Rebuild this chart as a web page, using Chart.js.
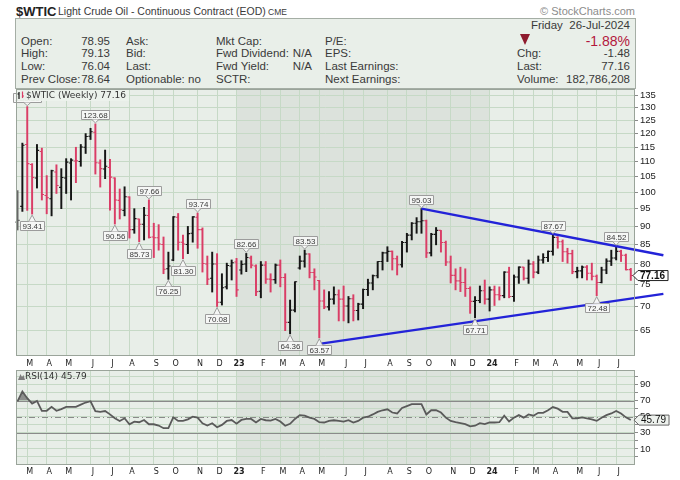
<!DOCTYPE html>
<html>
<head>
<meta charset="utf-8">
<title>$WTIC weekly</title>
<script src="https://cdn.jsdelivr.net/npm/chart.js@4.4.1/dist/chart.umd.min.js"></script>
<style>
  html, body { margin: 0; padding: 0; background: #fff; }
  #page { position: relative; width: 680px; height: 480px; overflow: hidden;
          font-family: 'Liberation Sans', Arial, sans-serif; color: #3a3a3a; }
  .t { position: absolute; white-space: pre; font-size: 11.5px; line-height: 13px; }
  .v { position: absolute; white-space: pre; font-size: 11.5px; line-height: 13px; text-align: right; }
  #box { position: absolute; left: 15px; top: 18px; width: 621px; height: 71px;
         box-sizing: border-box; background: #e9efe9; border: 1px solid #a5aea5; }
  #tri { position: absolute; left: 520px; top: 34px; width: 0; height: 0;
         border-left: 5.5px solid transparent; border-right: 5.5px solid transparent;
         border-top: 11px solid #8e1b2e; }
  canvas { position: absolute; left: 0; }
</style>
</head>
<body>
<div id="page">
  <div class="t" style="left:16px;top:4px;font-size:13px;line-height:15px;font-weight:bold;color:#222">$WTIC</div>
  <div class="t" style="left:58px;top:5px;font-size:10.5px;line-height:12px;">Light Crude Oil - Continuous Contract (EOD)</div>
  <div class="t" style="left:268px;top:7px;font-size:8.5px;line-height:10px;">CME</div>
  <div class="v" style="right:45px;top:5px;font-size:11px;color:#8c8c8c;">&copy; StockCharts.com</div>
  <div id="box"></div>

  <div class="t" style="left:21px;top:34.5px">Open:</div>
  <div class="t" style="left:21px;top:47px">High:</div>
  <div class="t" style="left:21px;top:59.5px">Low:</div>
  <div class="t" style="left:21px;top:72.5px">Prev Close:</div>
  <div class="v" style="right:570px;top:34.5px">78.95</div>
  <div class="v" style="right:570px;top:47px">79.13</div>
  <div class="v" style="right:570px;top:59.5px">76.04</div>
  <div class="v" style="right:570px;top:72.5px">78.64</div>

  <div class="t" style="left:126px;top:34.5px">Ask:</div>
  <div class="t" style="left:126px;top:47px">Bid:</div>
  <div class="t" style="left:126px;top:59.5px">Last:</div>
  <div class="t" style="left:126px;top:72.5px">Optionable: no</div>

  <div class="t" style="left:216px;top:34.5px">Mkt Cap:</div>
  <div class="t" style="left:216px;top:47px">Fwd Dividend:</div>
  <div class="t" style="left:216px;top:59.5px">Fwd Yield:</div>
  <div class="t" style="left:216px;top:72.5px">SCTR:</div>
  <div class="v" style="right:368px;top:47px">N/A</div>
  <div class="v" style="right:368px;top:59.5px">N/A</div>

  <div class="t" style="left:325px;top:34.5px">P/E:</div>
  <div class="t" style="left:325px;top:47px">EPS:</div>
  <div class="t" style="left:325px;top:59.5px">Last Earnings:</div>
  <div class="t" style="left:325px;top:72.5px">Next Earnings:</div>

  <div class="v" style="right:50px;top:18.8px">Friday  26-Jul-2024</div>
  <div id="tri"></div>
  <div class="v" style="right:50px;top:33px;font-size:14px;line-height:16px;color:#b3173d">-1.88%</div>
  <div class="t" style="left:517px;top:47px">Chg:</div>
  <div class="t" style="left:517px;top:59.5px">Last:</div>
  <div class="t" style="left:517px;top:72.5px">Volume:</div>
  <div class="v" style="right:50px;top:47px">-1.48</div>
  <div class="v" style="right:50px;top:59.5px">77.16</div>
  <div class="v" style="right:50px;top:72.5px">182,786,208</div>

  <canvas id="priceChart" width="680" height="293" style="top:77px"></canvas>
  <canvas id="rsiChart" width="680" height="122" style="top:358px"></canvas>
</div>

<script>
// weekly bars, bar 0 = week of 21-Feb-2022, last bar = week ending 26-Jul-2024
const opens = [
  91.1, 95.7, 116.0, 109.0, 104.5, 113.5, 99.0, 98.0, 106.5, 101.5,
  104.5, 109.5, 110.2, 110.0, 115.0, 119.0, 120.5, 109.5, 107.5, 108.0,
  104.5, 97.5, 94.5, 98.5, 89.0, 92.0, 90.5, 93.0, 87.0, 86.8,
  85.0, 78.8, 81.0, 92.5, 85.6, 85.0, 88.0, 92.5, 89.0, 80.0,
  76.5, 80.0, 71.0, 74.5, 79.5, 80.5, 78.5, 80.0, 81.5, 79.5,
  73.5, 79.7, 76.3, 76.2, 79.7, 76.7, 66.7, 69.3, 79.0, 80.7,
  82.5, 77.9, 76.0, 71.3, 70.0, 71.7, 72.7, 71.7, 70.2, 71.8,
  69.2, 70.6, 73.9, 75.4, 77.1, 80.6, 82.8, 83.2, 81.3, 79.8,
  85.5, 87.5, 90.8, 91.2, 91.5, 82.8, 87.7, 88.8, 85.5, 80.5,
  77.2, 75.9, 75.5, 74.1, 71.2, 71.4, 73.6, 71.7, 73.8, 72.7,
  72.5, 78.0, 72.3, 76.8, 79.2, 76.5, 80.0, 78.0, 81.0, 81.6,
  83.2, 86.9, 85.7, 83.1, 82.6, 78.1, 78.3, 79.2, 77.7, 77.0,
  75.5, 78.5, 80.7, 81.5, 83.2, 82.2, 78.6
];
const highs = [
  100.5, 116.5, 130.5, 109.3, 116.0, 114.7, 105.3, 107.1, 108.9, 107.6,
  111.0, 111.0, 115.0, 116.0, 120.0, 122.0, 123.68, 110.6, 114.0, 110.8,
  104.6, 101.0, 101.7, 98.6, 95.0, 92.0, 95.4, 97.66, 90.8, 90.4,
  87.0, 83.0, 92.7, 93.6, 87.5, 89.9, 92.7, 93.74, 89.5, 82.0,
  83.0, 82.6, 77.6, 80.2, 81.0, 81.4, 80.8, 82.66, 82.0, 79.8,
  80.6, 80.6, 77.6, 80.0, 81.0, 77.6, 71.5, 75.7, 82.0, 83.53,
  82.6, 78.8, 76.0, 73.8, 73.4, 74.5, 73.8, 74.7, 72.3, 72.7,
  70.8, 74.0, 76.3, 77.3, 80.6, 83.0, 84.4, 83.3, 82.0, 85.8,
  88.0, 91.0, 92.4, 95.03, 91.7, 88.0, 89.6, 88.8, 85.9, 82.0,
  78.8, 79.2, 78.8, 74.5, 72.3, 74.7, 76.1, 74.5, 74.7, 74.5,
  78.1, 79.2, 77.3, 79.3, 79.2, 81.0, 80.6, 82.0, 82.6, 83.3,
  87.67, 87.1, 86.2, 84.0, 83.5, 79.2, 79.5, 79.6, 80.2, 77.3,
  79.2, 81.3, 83.5, 84.52, 83.5, 82.5, 78.9
];
const lows = [
  88.9, 94.2, 94.5, 93.41, 101.3, 97.6, 93.5, 92.9, 99.6, 95.0,
  99.6, 97.6, 103.0, 108.4, 112.8, 117.8, 105.8, 101.6, 104.3, 94.6,
  90.56, 92.0, 92.9, 86.7, 88.0, 85.73, 86.2, 86.7, 81.6, 83.5,
  77.6, 76.25, 80.8, 83.5, 81.3, 82.6, 85.6, 84.0, 78.0, 75.0,
  73.3, 70.08, 70.4, 74.0, 76.1, 72.3, 77.5, 78.1, 79.0, 72.5,
  72.0, 75.3, 73.3, 75.3, 74.5, 65.0, 64.36, 68.9, 78.7, 79.2,
  76.6, 73.8, 63.57, 69.6, 69.3, 70.6, 67.0, 67.0, 66.6, 67.0,
  67.2, 69.6, 72.5, 73.8, 76.6, 78.5, 80.6, 78.5, 77.3, 79.2,
  83.0, 86.2, 88.0, 88.0, 81.6, 82.0, 84.9, 83.0, 79.6, 75.4,
  73.8, 73.4, 72.3, 68.6, 67.71, 70.9, 70.6, 69.1, 70.3, 71.5,
  72.0, 72.0, 71.2, 75.3, 76.1, 75.3, 76.6, 77.6, 80.2, 80.6,
  82.2, 84.0, 80.6, 80.2, 77.6, 76.6, 76.6, 76.1, 76.1, 72.48,
  75.4, 77.6, 79.6, 81.0, 80.6, 78.5, 76.0
];
const closes = [
  91.6, 115.7, 109.3, 104.7, 113.9, 99.3, 98.3, 106.9, 102.1, 104.7,
  109.8, 110.5, 110.3, 115.1, 118.9, 120.7, 109.6, 107.6, 108.4, 104.8,
  97.6, 94.7, 98.6, 89.0, 92.1, 90.5, 93.1, 86.9, 86.8, 85.1,
  78.7, 79.5, 92.6, 85.6, 85.1, 87.9, 92.6, 89.0, 80.1, 76.3,
  80.0, 71.0, 74.3, 79.6, 80.3, 73.8, 79.9, 81.6, 79.7, 73.4,
  79.7, 76.3, 76.2, 79.7, 76.7, 66.7, 69.3, 75.7, 80.7, 82.5,
  77.9, 76.8, 71.3, 70.0, 71.7, 72.7, 71.7, 70.2, 71.8, 69.2,
  70.6, 73.9, 75.4, 77.1, 80.6, 82.8, 83.2, 81.3, 79.8, 85.5,
  87.5, 90.8, 91.2, 91.5, 82.8, 87.7, 88.8, 85.5, 80.5, 77.2,
  75.9, 75.5, 74.1, 71.2, 71.4, 73.6, 71.7, 73.8, 72.7, 72.5,
  78.0, 72.3, 76.8, 79.2, 76.5, 80.0, 78.0, 81.0, 81.6, 83.2,
  86.9, 85.7, 83.1, 82.6, 78.1, 78.3, 79.2, 77.7, 77.0, 75.5,
  78.5, 80.7, 81.5, 83.2, 82.2, 78.6, 77.16
];
const rsi = [
  69.0, 81.4, 73.0, 66.3, 69.6, 57.3, 57.3, 62.2, 57.3, 59.4,
  62.2, 62.2, 62.2, 65.0, 67.6, 69.2, 57.0, 56.1, 57.0, 52.9,
  48.0, 44.7, 48.0, 40.6, 43.9, 43.1, 45.9, 40.6, 40.6, 39.0,
  35.7, 35.7, 49.2, 44.7, 44.7, 46.7, 50.0, 48.8, 41.8, 39.0,
  41.8, 36.9, 39.8, 44.7, 45.9, 41.4, 46.0, 47.2, 47.2, 42.8,
  47.2, 45.6, 45.2, 47.2, 44.0, 38.8, 41.2, 47.2, 52.0, 51.2,
  48.8, 47.2, 43.2, 42.8, 44.8, 45.6, 44.8, 44.0, 45.6, 42.8,
  44.8, 48.8, 50.0, 52.8, 56.0, 58.0, 59.2, 55.2, 54.0, 60.8,
  63.2, 65.6, 65.6, 65.6, 52.8, 58.0, 58.0, 55.2, 48.8, 44.8,
  43.2, 42.0, 40.8, 38.0, 38.8, 42.0, 40.8, 42.8, 42.8, 43.2,
  51.2, 44.0, 48.8, 52.0, 48.8, 52.8, 51.2, 54.8, 54.8, 58.0,
  62.0, 60.0, 56.0, 56.0, 48.0, 48.0, 49.2, 48.0, 46.8, 44.8,
  48.8, 52.0, 54.0, 57.2, 54.0, 49.2, 45.79
];

// first week of each month (bar index) and its label
const monthTickIdx = [2, 6, 10, 15, 19, 23, 28, 32, 37, 41, 45, 50, 54, 58, 62,
                      67, 71, 76, 80, 84, 89, 93, 97, 102, 106, 110, 115, 119, 123];
const monthTickLabels = ['M', 'A', 'M', 'J', 'J', 'A', 'S', 'O', 'N', 'D', '23', 'F', 'M', 'A', 'M',
                         'J', 'J', 'A', 'S', 'O', 'N', 'D', '24', 'F', 'M', 'A', 'M', 'J', 'J'];
const yearBand = [45, 97];   // 2023 shaded between these bars

const priceTicks = [65, 70, 75, 80, 85, 90, 95, 100, 105, 110, 115, 120, 125, 130, 135];
const rsiTicks = [0, 10, 20, 30, 40, 50, 60, 70, 80, 90, 100];
const rsiLabels = [10, 30, 50, 70, 90];

const peakIdx = [2, 16, 27, 37, 47, 59, 83, 110, 123];
const troughIdx = [3, 20, 25, 31, 34, 41, 56, 62, 94, 119];

const upperTrend = [{x: 83, y: 95.03}, {x: 132.7, y: 82.2}];
const lowerTrend = [{x: 62, y: 62.4}, {x: 132.7, y: 72.9}];

Chart.defaults.font.family = "'Liberation Sans', Arial, sans-serif";
Chart.defaults.color = '#222';

const red = '#da3d66';
const black = '#151515';
const gridColor = '#c6d9c6';
const panelBg = '#e8eee8';
const bandBg = '#dce2dc';
const barColors = closes.map((c, i) => i === 0 ? '#666' : (c < closes[i - 1] ? red : black));

function xAxis(axisHeight, pad) {
    return {
        type: 'linear', min: -0.31, max: 126.87, bounds: 'data', offset: false,
        afterBuildTicks: s => { s.ticks = monthTickIdx.map(v => ({value: v})); },
        afterFit: s => { s.height = axisHeight; },
        grid: { color: gridColor, drawTicks: false, offset: false },
        border: { display: false },
        ticks: {
            autoSkip: false, maxRotation: 0, minRotation: 0, padding: pad, labelOffset: 2.5,
            color: '#222',
            font: ctx => ({ family: 'DejaVu Sans', size: 8,
                            weight: /\d/.test(monthTickLabels[ctx.index] || '') ? 'bold' : 'normal' }),
            callback: (v, i) => monthTickLabels[i]
        }
    };
}

function drawPanelBack(chart) {
    const {ctx, chartArea: a, scales: {x}} = chart;
    ctx.save();
    ctx.fillStyle = panelBg;
    ctx.fillRect(a.left, a.top, a.right - a.left, a.bottom - a.top);
    const x0 = x.getPixelForValue(yearBand[0]);
    const x1 = x.getPixelForValue(yearBand[1]);
    ctx.fillStyle = bandBg;
    ctx.fillRect(x0, a.top, x1 - x0, a.bottom - a.top);
    ctx.restore();
}

function drawFrame(chart) {
    const {ctx, chartArea: a} = chart;
    ctx.save();
    ctx.strokeStyle = '#9aa49a';
    ctx.lineWidth = 1;
    ctx.strokeRect(Math.round(a.left) + 0.5, Math.round(a.top) + 0.5,
                   Math.round(a.right - a.left) - 1, Math.round(a.bottom - a.top) - 1);
    ctx.restore();
}

function drawValueTag(ctx, text, x0, yc, bold, fill, stroke) {
    ctx.save();
    ctx.font = (bold ? 'bold ' : '') + "10px 'Liberation Sans'";
    const w = ctx.measureText(text).width + 10;
    ctx.beginPath();
    ctx.moveTo(x0, yc);
    ctx.lineTo(x0 + 5, yc - 5);
    ctx.lineTo(x0 + w, yc - 5);
    ctx.lineTo(x0 + w, yc + 5);
    ctx.lineTo(x0 + 5, yc + 5);
    ctx.closePath();
    ctx.fillStyle = fill;
    ctx.fill();
    ctx.strokeStyle = stroke;
    ctx.lineWidth = 1;
    ctx.stroke();
    ctx.fillStyle = '#111';
    ctx.textAlign = 'left';
    ctx.textBaseline = 'middle';
    ctx.fillText(text, x0 + 7, yc + 0.5);
    ctx.restore();
}

function drawPointLabel(ctx, text, cx, yTip, above) {
    ctx.font = "8px 'Liberation Sans'";
    const w = Math.round(ctx.measureText(text).width + 4);
    const h = 9;
    const top = Math.round(above ? yTip - 5 - h : yTip + 7);
    const left = Math.round(cx - w / 2);
    ctx.fillStyle = 'rgba(246,247,246,0.92)';
    ctx.strokeStyle = '#9c9c9c';
    ctx.lineWidth = 1;
    ctx.beginPath();
    ctx.rect(left + 0.5, top + 0.5, w, h);
    ctx.fill();
    ctx.stroke();
    ctx.beginPath();
    if (above) {
        ctx.moveTo(cx - 3.5, top + h + 0.5);
        ctx.lineTo(cx, yTip - 1);
        ctx.lineTo(cx + 3.5, top + h + 0.5);
    } else {
        ctx.moveTo(cx - 3.5, top + 0.5);
        ctx.lineTo(cx, yTip + 1);
        ctx.lineTo(cx + 3.5, top + 0.5);
    }
    ctx.fill();
    ctx.stroke();
    ctx.fillStyle = '#3a3a3a';
    ctx.textAlign = 'center';
    ctx.textBaseline = 'middle';
    ctx.fillText(text, left + w / 2 + 0.5, top + h / 2 + 1);
}

const pricePanel = {
    id: 'pricePanel',
    beforeDraw(chart) { drawPanelBack(chart); },
    afterDatasetDraw(chart, args) {
        if (args.index !== 0) return;
        const {ctx, scales: {x, y}} = chart;
        ctx.save();
        ctx.lineWidth = 1.1;
        closes.forEach((c, i) => {
            const px = x.getPixelForValue(i);
            const yo = y.getPixelForValue(opens[i]);
            const yc = y.getPixelForValue(c);
            ctx.strokeStyle = barColors[i];
            ctx.beginPath();
            ctx.moveTo(px - 2.2, yo);
            ctx.lineTo(px, yo);
            ctx.moveTo(px, yc);
            ctx.lineTo(px + 2.2, yc);
            ctx.stroke();
        });
        ctx.restore();
    },
    afterDatasetsDraw(chart) {
        const {ctx, scales: {x, y}} = chart;
        ctx.save();
        peakIdx.forEach(i => drawPointLabel(ctx, highs[i].toFixed(2), x.getPixelForValue(i), y.getPixelForValue(highs[i]), true));
        troughIdx.forEach(i => drawPointLabel(ctx, lows[i].toFixed(2), x.getPixelForValue(i), y.getPixelForValue(lows[i]), false));
        ctx.restore();
    },
    afterDraw(chart) {
        const {ctx, chartArea: a, scales: {y}} = chart;
        drawFrame(chart);
        // legend
        ctx.save();
        ctx.font = "9px 'DejaVu Sans'";
        const label = '$WTIC (Weekly) ' + closes[closes.length - 1].toFixed(2);
        const tw = ctx.measureText(label).width;
        ctx.fillStyle = 'rgba(236,241,236,0.95)';
        ctx.fillRect(a.left + 1, a.top + 1, tw + 12, 11);
        ctx.lineWidth = 1.2;
        ctx.strokeStyle = black;
        ctx.beginPath();
        ctx.moveTo(a.left + 3, a.top + 3); ctx.lineTo(a.left + 3, a.top + 10);
        ctx.moveTo(a.left + 1.5, a.top + 5); ctx.lineTo(a.left + 3, a.top + 5);
        ctx.stroke();
        ctx.strokeStyle = red;
        ctx.beginPath();
        ctx.moveTo(a.left + 6.5, a.top + 2.5); ctx.lineTo(a.left + 6.5, a.top + 9);
        ctx.moveTo(a.left + 6.5, a.top + 7); ctx.lineTo(a.left + 8, a.top + 7);
        ctx.stroke();
        ctx.fillStyle = '#333';
        ctx.textAlign = 'left';
        ctx.textBaseline = 'middle';
        ctx.fillText(label, a.left + 10, a.top + 6.5);
        ctx.restore();
        const last = closes[closes.length - 1];
        drawValueTag(ctx, last.toFixed(2), a.right - 2, y.getPixelForValue(last), true, '#fff', '#222');
    }
};

new Chart(document.getElementById('priceChart'), {
    type: 'bar',
    data: {
        datasets: [
            {
                type: 'bar', order: 2,
                data: closes.map((c, i) => ({x: i, y: [lows[i], highs[i]]})),
                backgroundColor: barColors, borderWidth: 0, barThickness: 1.3
            },
            {
                type: 'line', order: 1, data: upperTrend, clip: false,
                borderColor: '#2323d8', borderWidth: 2.4, pointRadius: 0, fill: false
            },
            {
                type: 'line', order: 1, data: lowerTrend, clip: false,
                borderColor: '#2323d8', borderWidth: 2.4, pointRadius: 0, fill: false
            }
        ]
    },
    options: {
        responsive: false, animation: false, maintainAspectRatio: false,
        layout: { padding: { left: 16, top: 12, right: 0, bottom: 0 } },
        plugins: { legend: { display: false }, tooltip: { enabled: false } },
        scales: {
            x: xAxis(14, 3),
            y: {
                type: 'logarithmic', position: 'right', min: 60.08, max: 137.85, bounds: 'data',
                afterBuildTicks: s => { s.ticks = priceTicks.map(v => ({value: v})); },
                afterFit: s => { s.width = 45; },
                grid: { color: gridColor, drawTicks: true, tickLength: 3, tickColor: '#8a8a8a' },
                border: { display: false },
                ticks: { autoSkip: false, padding: 2, color: '#222', font: { size: 9.5 },
                         callback: v => String(v) }
            }
        }
    },
    plugins: [pricePanel]
});

const rsiPanel = {
    id: 'rsiPanel',
    beforeDraw(chart) { drawPanelBack(chart); },
    beforeDatasetsDraw(chart) {
        const {ctx, chartArea: a, scales: {y}} = chart;
        ctx.save();
        ctx.strokeStyle = '#8a8a8a';
        ctx.lineWidth = 1.2;
        [70, 30].forEach(v => {
            const py = Math.round(y.getPixelForValue(v)) + 0.5;
            ctx.beginPath(); ctx.moveTo(a.left, py); ctx.lineTo(a.right, py); ctx.stroke();
        });
        ctx.lineWidth = 1;
        ctx.setLineDash([6, 3, 1, 3]);
        const p50 = Math.round(y.getPixelForValue(50)) + 0.5;
        ctx.beginPath(); ctx.moveTo(a.left, p50); ctx.lineTo(a.right, p50); ctx.stroke();
        ctx.restore();
    },
    afterDraw(chart) {
        const {ctx, chartArea: a, scales: {y}} = chart;
        drawFrame(chart);
        ctx.save();
        ctx.fillStyle = '#7d7d7d';
        ctx.beginPath();
        ctx.moveTo(a.left + 2, a.top + 10);
        ctx.lineTo(a.left + 4.5, a.top + 4);
        ctx.lineTo(a.left + 6, a.top + 7);
        ctx.lineTo(a.left + 7.5, a.top + 5);
        ctx.lineTo(a.left + 9, a.top + 10);
        ctx.closePath();
        ctx.fill();
        ctx.font = "9px 'DejaVu Sans'";
        ctx.fillStyle = '#333';
        ctx.textAlign = 'left';
        ctx.textBaseline = 'middle';
        const last = rsi[rsi.length - 1];
        ctx.fillText('RSI(14) ' + last.toFixed(2), a.left + 9, a.top + 6.5);
        ctx.restore();
        drawValueTag(ctx, last.toFixed(2), a.right - 1, y.getPixelForValue(last), false, '#eef2ee', '#666');
    }
};

new Chart(document.getElementById('rsiChart'), {
    type: 'line',
    data: {
        datasets: [{
            data: rsi.map((v, i) => ({x: i, y: v})),
            borderColor: '#5a5a5a', borderWidth: 1.8, pointRadius: 0, tension: 0,
            fill: { target: { value: 70 }, above: 'rgba(110,110,110,0.75)', below: 'rgba(0,0,0,0)' }
        }]
    },
    options: {
        responsive: false, animation: false, maintainAspectRatio: false,
        layout: { padding: { left: 16, top: 12, right: 0, bottom: 0 } },
        plugins: { legend: { display: false }, tooltip: { enabled: false } },
        scales: {
            x: xAxis(15, 2),
            y: {
                type: 'linear', position: 'right', min: -10, max: 108, bounds: 'data',
                afterBuildTicks: s => { s.ticks = rsiTicks.map(v => ({value: v})); },
                afterFit: s => { s.width = 45; },
                grid: { color: gridColor, drawTicks: true, tickLength: 3, tickColor: '#8a8a8a' },
                border: { display: false },
                ticks: { autoSkip: false, padding: 2, color: '#222', font: { size: 9.5 },
                         callback: v => rsiLabels.includes(v) ? String(v) : '' }
            }
        }
    },
    plugins: [rsiPanel]
});
</script>
</body>
</html>
